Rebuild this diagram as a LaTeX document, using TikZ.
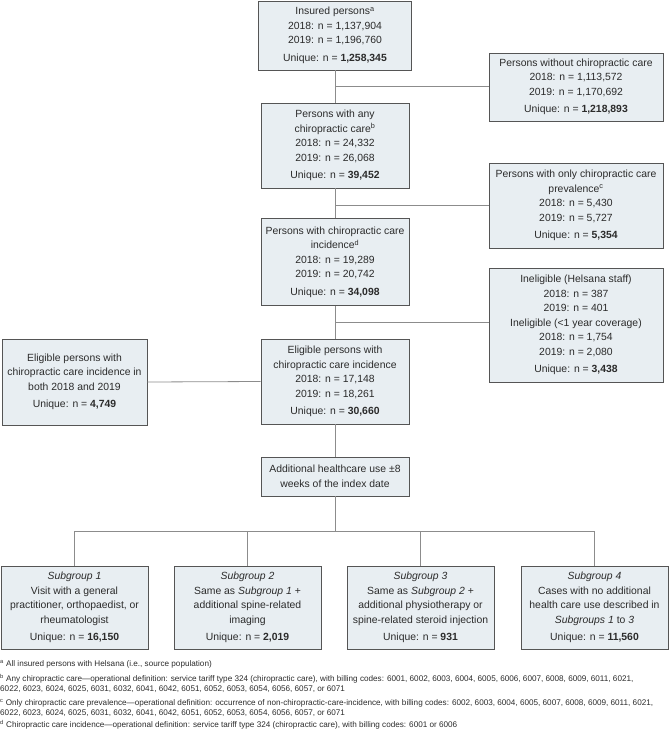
\documentclass[tikz,border=0pt]{standalone}
\usepackage{fontspec}
\setmainfont{Liberation Sans}
\definecolor{boxfill}{HTML}{E8EEF2}
\definecolor{boxborder}{HTML}{555555}
\definecolor{linecol}{HTML}{8C8C8C}
\definecolor{txt}{HTML}{2B2B2B}
\newcommand\mainfnt{\fontsize{10.4}{14.5}\selectfont}
\newcommand\notefnt{\fontsize{8.15}{10.5}\selectfont}
\newcommand\uq[1]{\\[3pt]Unique: n = \textbf{#1}}
\begin{document}
\begin{tikzpicture}[x=1pt,y=-1pt,
  box/.style={draw=boxborder, fill=boxfill, line width=0.9pt, inner sep=0pt,
    align=center, font=\mainfnt, text=txt},
  mainbox/.style={box, minimum width=148pt},
  sidebox/.style={box, minimum width=174pt},
  subbox/.style={box, minimum width=147pt, minimum height=83pt},
  link/.style={draw=linecol, line width=0.8pt},
  note/.style={anchor=west, inner sep=0pt, font=\notefnt, text=txt, align=left}]
\useasboundingbox (0,0) rectangle (669,731);

% main column
\node[mainbox, minimum width=153pt, minimum height=69pt] (b1) at (335,35.5)
  {Insured persons\textsuperscript{a}\\2018: n = 1,137,904\\2019: n = 1,196,760\uq{1,258,345}};
\node[mainbox, minimum height=85pt] (b2) at (335,145.5)
  {Persons with any\\chiropractic care\textsuperscript{b}\\2018: n = 24,332\\2019: n = 26,068\uq{39,452}};
\node[mainbox, minimum height=87pt] (b3) at (335,262)
  {Persons with chiropractic care\\incidence\textsuperscript{d}\\2018: n = 19,289\\2019: n = 20,742\uq{34,098}};
\node[mainbox, minimum height=85pt] (b4) at (335,381.5)
  {Eligible persons with\\chiropractic care incidence\\2018: n = 17,148\\2019: n = 18,261\uq{30,660}};
\node[mainbox, minimum height=39pt] (b5) at (335,476.5)
  {Additional healthcare use \char"00B1 8\\weeks of the index date};

% side boxes
\node[sidebox, minimum height=68pt] (r1) at (576,87)
  {Persons without chiropractic care\\2018: n = 1,113,572\\2019: n = 1,170,692\uq{1,218,893}};
\node[sidebox, minimum height=85pt] (r2) at (576,205.5)
  {Persons with only chiropractic care\\prevalence\textsuperscript{c}\\2018: n = 5,430\\2019: n = 5,727\uq{5,354}};
\node[sidebox, minimum height=114pt] (r3) at (576,325)
  {Ineligible (Helsana staff)\\2018: n = 387\\2019: n = 401\\Ineligible (<1 year coverage)\\2018: n = 1,754\\2019: n = 2,080\uq{3,438}};
\node[box, minimum width=145pt, minimum height=86pt] (l1) at (74.5,382)
  {Eligible persons with\\chiropractic care incidence in\\both 2018 and 2019\uq{4,749}};

% subgroups
\node[subbox] (s1) at (74.5,607.5)
  {\textit{Subgroup 1}\\Visit with a general\\practitioner, orthopaedist, or\\rheumatologist\uq{16,150}};
\node[subbox] (s2) at (247.5,607.5)
  {\textit{Subgroup 2}\\Same as \textit{Subgroup 1} +\\additional spine-related\\imaging\uq{2,019}};
\node[subbox] (s3) at (420.5,607.5)
  {\textit{Subgroup 3}\\Same as \textit{Subgroup 2} +\\additional physiotherapy or\\spine-related steroid injection\uq{931}};
\node[subbox] (s4) at (594.5,607.5)
  {\textit{Subgroup 4}\\Cases with no additional\\health care use described in\\\textit{Subgroups 1} to \textit{3}\uq{11,560}};

% connectors
\coordinate (j1) at (335,86);
\coordinate (j2) at (335,205);
\coordinate (j3) at (335,322);
\coordinate (fan) at (335,531);
\draw[link] (b1.south) -- (b2.north);
\draw[link] (j1) -- (r1.west |- j1);
\draw[link] (b2.south) -- (b3.north);
\draw[link] (j2) -- (r2.west |- j2);
\draw[link] (b3.south) -- (b4.north);
\draw[link] (j3) -- (r3.west |- j3);
\draw[link] (l1.east) -- (b4.west);
\draw[link] (b4.south) -- (b5.north);
\draw[link] (b5.south) -- (fan);
\draw[link] (s1.north |- fan) -- (s4.north |- fan);
\draw[link] (s1.north |- fan) -- (s1.north);
\draw[link] (s2.north |- fan) -- (s2.north);
\draw[link] (s3.north |- fan) -- (s3.north);
\draw[link] (s4.north |- fan) -- (s4.north);

% footnotes
\node[note] (na) at (0,664) {\textsuperscript{a} All insured persons with Helsana (i.e., source population)};
\node[note] (nb) at (0,683.5) {\textsuperscript{b} Any chiropractic care—operational definition: service tariff type 324 (chiropractic care), with billing codes: 6001, 6002, 6003, 6004, 6005, 6006, 6007, 6008, 6009, 6011, 6021,\\6022, 6023, 6024, 6025, 6031, 6032, 6041, 6042, 6051, 6052, 6053, 6054, 6056, 6057, or 6071};
\node[note] (nc) at (0,708) {\textsuperscript{c} Only chiropractic care prevalence—operational definition: occurrence of non-chiropractic-care-incidence, with billing codes: 6002, 6003, 6004, 6005, 6007, 6008, 6009, 6011, 6021,\\6022, 6023, 6024, 6025, 6031, 6032, 6041, 6042, 6051, 6052, 6053, 6054, 6056, 6057, or 6071};
\node[note] (nd) at (0,724.5) {\textsuperscript{d} Chiropractic care incidence—operational definition: service tariff type 324 (chiropractic care), with billing codes: 6001 or 6006};
\end{tikzpicture}
\end{document}
